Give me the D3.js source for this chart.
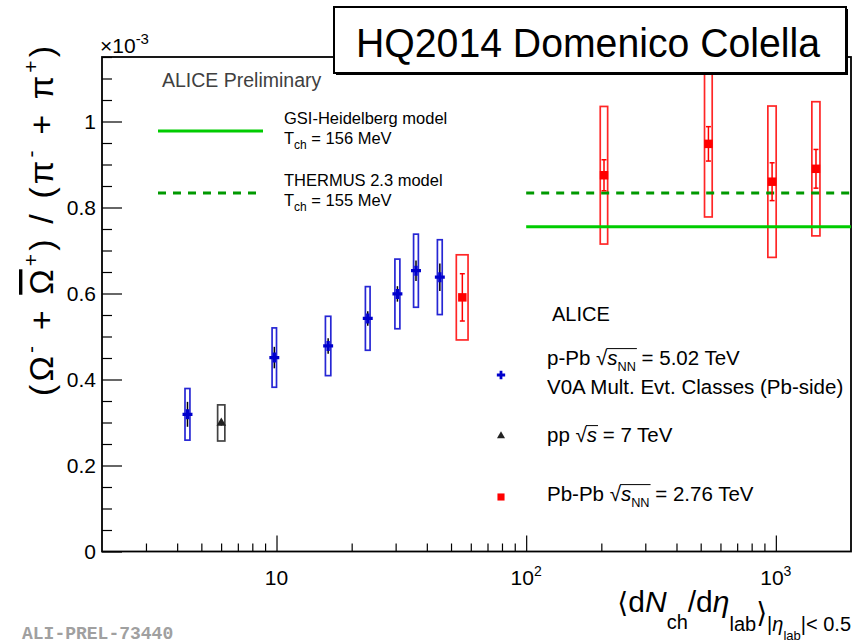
<!DOCTYPE html>
<html>
<head>
<meta charset="utf-8">
<script src="https://cdn.jsdelivr.net/npm/d3@7"></script>
<style>
  body { margin: 0; background: #fff; }
  text { font-family: "Liberation Sans", Arial, Helvetica, sans-serif; }
</style>
</head>
<body>
<div id="chart"></div>
<script>
// p-Pb 5.02 TeV, V0A multiplicity classes
const pPbMult = [4.4, 9.8, 16.1, 23.2, 30.5, 36.2, 45.1];
const pPbMultErr = [0.1, 0.2, 0.4, 0.5, 0.7, 0.8, 1.0];
const pPbRatio = [0.319, 0.451, 0.478, 0.542, 0.599, 0.653, 0.638];
const pPbStat = [0.029, 0.025, 0.018, 0.017, 0.018, 0.024, 0.032];
const pPbSyst = [0.060, 0.069, 0.069, 0.074, 0.081, 0.085, 0.087];

// pp 7 TeV
const ppMult = [6.01];
const ppMultErr = [0.2];
const ppRatio = [0.299];
const ppStat = [0.006];
const ppSyst = [0.042];

// Pb-Pb 2.76 TeV
const pbpbMult = [55.5, 205, 537, 966, 1448];
const pbpbMultErr = [3, 7, 19, 37, 54];
const pbpbRatio = [0.591, 0.875, 0.948, 0.860, 0.890];
const pbpbStat = [0.055, 0.036, 0.040, 0.044, 0.045];
const pbpbSyst = [0.099, 0.160, 0.170, 0.176, 0.156];

// thermal model predictions
const modelNames = ["GSI-Heidelberg model", "THERMUS 2.3 model"];
const modelTch = [156, 155];
const modelRatio = [0.755, 0.834];
const modelRange = [100, 2000];

// axis ticks
const yTicks = [0, 0.2, 0.4, 0.6, 0.8, 1];
const yTickLabels = ["0", "0.2", "0.4", "0.6", "0.8", "1"];
const xTicks = [10, 100, 1000];
const xTickLabels = [["10", ""], ["10", "2"], ["10", "3"]];

class RatioChart {

    constructor(_config) {
        this.config = {
            parentElement: _config.parentElement,
            containerWidth: _config.containerWidth || 867,
            containerHeight: _config.containerHeight || 643,
            margin: _config.margin || { top: 57, right: 16, bottom: 91.5, left: 102 }
        };
        this.initVis();
    }

    initVis() {
        let vis = this;
        const m = vis.config.margin;
        vis.width = vis.config.containerWidth - m.left - m.right;
        vis.height = vis.config.containerHeight - m.top - m.bottom;

        vis.svg = d3.select(vis.config.parentElement)
            .append('svg')
            .attr('width', vis.config.containerWidth)
            .attr('height', vis.config.containerHeight);

        vis.chart = vis.svg.append('g')
            .attr('transform', `translate(${m.left},${m.top})`);

        vis.x = d3.scaleLog().domain([2, 2000]).range([0, vis.width]);
        vis.y = d3.scaleLinear().domain([0, 1.15]).range([vis.height, 0]);
    }

    renderVis() {
        let vis = this;
        const x = vis.x, y = vis.y;

        // y axis, major + minor ticks pointing inwards
        const yMajor = vis.chart.append('g')
            .call(d3.axisLeft(y).tickValues(yTicks)
                .tickFormat((d, i) => yTickLabels[i])
                .tickSize(-20).tickSizeOuter(0).tickPadding(6));
        yMajor.selectAll('text').attr('font-size', 21).attr('fill', '#000')
            .style('font-family', '"Liberation Sans", Arial, sans-serif');
        const yMinorVals = d3.range(0.05, 1.151, 0.05)
            .filter(v => Math.abs(v * 5 - Math.round(v * 5)) > 1e-6);
        vis.chart.append('g')
            .call(d3.axisLeft(y).tickValues(yMinorVals).tickFormat('')
                .tickSize(-10).tickSizeOuter(0));

        // x axis (log)
        vis.chart.append('g')
            .attr('transform', `translate(0,${vis.height})`)
            .call(d3.axisBottom(x).tickValues(xTicks).tickFormat('')
                .tickSize(-16).tickSizeOuter(0));
        const xMinorVals = [];
        [1, 10, 100].forEach(dec => {
            for (let k = 2; k <= 9; k++) {
                if (dec * k > 2 && dec * k < 2000) xMinorVals.push(dec * k);
            }
        });
        vis.chart.append('g')
            .attr('transform', `translate(0,${vis.height})`)
            .call(d3.axisBottom(x).tickValues(xMinorVals).tickFormat('')
                .tickSize(-8).tickSizeOuter(0));
        vis.chart.selectAll('.domain').remove();
        vis.chart.selectAll('.tick line').attr('stroke', '#000').attr('stroke-width', 1.2);

        xTicks.forEach((t, i) => {
            const lab = vis.chart.append('text')
                .attr('x', x(t)).attr('y', vis.height + 33.5)
                .attr('text-anchor', 'middle').attr('font-size', 21);
            lab.append('tspan').text(xTickLabels[i][0]);
            if (xTickLabels[i][1]) {
                lab.append('tspan').attr('font-size', 14).attr('dy', -9).text(xTickLabels[i][1]);
            }
        });

        // frame
        vis.chart.append('rect')
            .attr('width', vis.width).attr('height', vis.height)
            .attr('fill', 'none').attr('stroke', '#000').attr('stroke-width', 1.8);

        // exponent label
        const expo = vis.svg.append('text').attr('x', 100).attr('y', 53).attr('font-size', 21);
        expo.append('tspan').text('\u00D710');
        expo.append('tspan').attr('font-size', 15).attr('dy', -9).text('-3');

        // data series
        const series = [
            { mult: pPbMult, multErr: pPbMultErr, ratio: pPbRatio, stat: pPbStat, syst: pPbSyst,
              color: '#0000cc', statColor: '#000', caps: false, symbol: d3.symbolCross, size: 55 },
            { mult: ppMult, multErr: ppMultErr, ratio: ppRatio, stat: ppStat, syst: ppSyst,
              color: '#222', statColor: '#000', caps: false, symbol: d3.symbolTriangle, size: 40 },
            { mult: pbpbMult, multErr: pbpbMultErr, ratio: pbpbRatio, stat: pbpbStat, syst: pbpbSyst,
              color: '#ff0000', statColor: '#ff0000', caps: true, symbol: d3.symbolSquare, size: 72 }
        ];

        series.forEach(s => {
            const pts = s.mult.map((m, i) => ({ m: m, e: s.multErr[i], r: s.ratio[i], st: s.stat[i], sy: s.syst[i] }));
            vis.chart.append('g').selectAll('rect')
                .data(pts).enter().append('rect')
                .attr('x', d => x(d.m - d.e))
                .attr('width', d => x(d.m + d.e) - x(d.m - d.e))
                .attr('y', d => y(d.r + d.sy))
                .attr('height', d => y(d.r - d.sy) - y(d.r + d.sy))
                .attr('fill', 'none')
                .attr('stroke', s.color).attr('stroke-width', 1.7).attr('stroke-opacity', 0.85);
        });

        // model lines
        const modelDash = [null, '8,7'];
        const modelColor = ['#00cc00', '#009900'];
        modelRatio.forEach((r, i) => {
            vis.chart.append('line')
                .attr('x1', x(modelRange[0])).attr('x2', x(modelRange[1]))
                .attr('y1', y(r)).attr('y2', y(r))
                .attr('stroke', modelColor[i]).attr('stroke-width', 3)
                .attr('stroke-dasharray', modelDash[i]);
        });

        series.forEach(s => {
            const pts = s.mult.map((m, i) => ({ m: m, r: s.ratio[i], st: s.stat[i] }));
            const g = vis.chart.append('g');
            g.selectAll('line.stat').data(pts).enter().append('line')
                .attr('x1', d => x(d.m)).attr('x2', d => x(d.m))
                .attr('y1', d => y(d.r + d.st)).attr('y2', d => y(d.r - d.st))
                .attr('stroke', s.statColor).attr('stroke-width', 1.5);
            if (s.caps) {
                ['hi', 'lo'].forEach(side => {
                    g.selectAll('line.cap' + side).data(pts).enter().append('line')
                        .attr('x1', d => x(d.m) - 2.5).attr('x2', d => x(d.m) + 2.5)
                        .attr('y1', d => y(side === 'hi' ? d.r + d.st : d.r - d.st))
                        .attr('y2', d => y(side === 'hi' ? d.r + d.st : d.r - d.st))
                        .attr('stroke', s.statColor).attr('stroke-width', 1.5);
                });
            }
            g.selectAll('path').data(pts).enter().append('path')
                .attr('d', d3.symbol().type(s.symbol).size(s.size))
                .attr('transform', d => `translate(${x(d.m)},${y(d.r)})`)
                .attr('fill', s.color);
        });

        // top-left legend
        vis.svg.append('text').attr('x', 162).attr('y', 87).attr('font-size', 19.5)
            .attr('fill', '#404040').text('ALICE Preliminary');
        const legY = [131, 193];
        modelNames.forEach((name, i) => {
            vis.svg.append('line')
                .attr('x1', 158).attr('x2', 263).attr('y1', legY[i]).attr('y2', legY[i])
                .attr('stroke', modelColor[i]).attr('stroke-width', 3)
                .attr('stroke-dasharray', modelDash[i]);
            vis.svg.append('text').attr('x', 284).attr('y', legY[i] - 7)
                .attr('font-size', 16.5).text(name);
            const t = vis.svg.append('text').attr('x', 284).attr('y', legY[i] + 13).attr('font-size', 16.5);
            t.append('tspan').text('T');
            t.append('tspan').attr('font-size', 12).attr('dy', 5).text('ch');
            t.append('tspan').attr('dy', -5).text(` = ${modelTch[i]} MeV`);
        });

        // bottom-right legend
        vis.svg.append('text').attr('x', 552).attr('y', 321).attr('font-size', 20).text('ALICE');
        vis.sqrtText(547, 365, 20.5, 'p-Pb ', 'NN', ' = 5.02 TeV');
        vis.svg.append('text').attr('x', 547).attr('y', 394).attr('font-size', 20.5)
            .text('V0A Mult. Evt. Classes (Pb-side)');
        vis.sqrtText(547, 442, 20.5, 'pp ', '', ' = 7 TeV');
        vis.sqrtText(547, 501, 20.5, 'Pb-Pb ', 'NN', ' = 2.76 TeV');
        const legMarkY = [375, 436, 497];
        series.forEach((s, i) => {
            vis.svg.append('path')
                .attr('d', d3.symbol().type(s.symbol).size(s.size * 0.7))
                .attr('transform', `translate(501,${legMarkY[i]})`)
                .attr('fill', s.color);
        });

        // y axis title
        const yt = vis.svg.append('text')
            .attr('transform', 'translate(53,46) rotate(-90)')
            .attr('text-anchor', 'end').attr('font-size', 34)
            .attr('textLength', 350).attr('lengthAdjust', 'spacing');
        const sup = (txt) => {
            yt.append('tspan').attr('font-size', 21).attr('dy', -15).text(txt);
        };
        yt.append('tspan').text('(\u03A9');
        sup('-');
        yt.append('tspan').attr('dy', 15).text(' + ');
        yt.append('tspan').style('text-decoration', 'overline').text('\u03A9');
        sup('+');
        yt.append('tspan').attr('dy', 15).text(') / (\u03C0');
        sup('-');
        yt.append('tspan').attr('dy', 15).text(' + \u03C0');
        sup('+');
        yt.append('tspan').attr('dy', 15).text(')');

        // x axis title
        const xt = vis.svg.append('text')
            .attr('x', 851).attr('y', 612)
            .attr('text-anchor', 'end').attr('font-size', 30);
        xt.append('tspan').style('font-family', '"DejaVu Sans", sans-serif').attr('font-size', 28).text('\u27E8');
        xt.append('tspan').text('d');
        xt.append('tspan').attr('font-style', 'italic').text('N');
        xt.append('tspan').attr('font-size', 20).attr('dy', 17).text('ch');
        xt.append('tspan').attr('dy', -17).text('/d');
        xt.append('tspan').attr('font-style', 'italic').text('\u03B7');
        xt.append('tspan').attr('font-size', 20).attr('dy', 19).text('lab');
        xt.append('tspan').style('font-family', '"DejaVu Sans", sans-serif').attr('font-size', 28).attr('dy', -9).text('\u27E9');
        xt.append('tspan').attr('font-size', 20).attr('dy', 9).text('|');
        xt.append('tspan').attr('font-size', 20).attr('font-style', 'italic').text('\u03B7');
        xt.append('tspan').attr('font-size', 13).attr('dy', 9).text('lab');
        xt.append('tspan').attr('font-size', 20).attr('dy', -9).text('|< 0.5');

        // preliminary id
        vis.svg.append('text').attr('x', 22).attr('y', 639)
            .attr('font-size', 18).attr('font-weight', 'bold').attr('fill', '#a0a0a0')
            .style('font-family', '"Liberation Mono", "Courier New", monospace')
            .text('ALI-PREL-73440');

        // conference tag box
        vis.svg.append('rect').attr('x', 336).attr('y', 9).attr('width', 512).attr('height', 66)
            .attr('fill', '#000');
        vis.svg.append('rect').attr('x', 334).attr('y', 7).attr('width', 512).attr('height', 66)
            .attr('fill', '#fff').attr('stroke', '#000').attr('stroke-width', 2);
        vis.svg.append('text').attr('x', 588).attr('y', 56.5)
            .attr('text-anchor', 'middle').attr('font-size', 40)
            .attr('textLength', 464).attr('lengthAdjust', 'spacingAndGlyphs')
            .text('HQ2014 Domenico Colella');
    }

    sqrtText(px, py, fs, pre, sub, post) {
        let vis = this;
        const t = vis.svg.append('text').attr('x', px).attr('y', py).attr('font-size', fs);
        t.append('tspan').text(pre);
        t.append('tspan').text('\u221A');
        t.append('tspan').attr('font-style', 'italic').text('s');
        if (sub) t.append('tspan').attr('font-size', fs * 0.62).attr('dy', fs * 0.3).text(sub);
        t.append('tspan').attr('dy', sub ? -fs * 0.3 : 0).text(post);
        const node = t.node();
        const iRad = pre.length;
        const iEnd = iRad + 1 + sub.length;
        const ext = node.getExtentOfChar(iRad);
        const endX = node.getEndPositionOfChar(iEnd).x;
        vis.svg.append('line')
            .attr('x1', ext.x + ext.width - 0.8).attr('x2', endX + 1)
            .attr('y1', py - fs * 0.8).attr('y2', py - fs * 0.8)
            .attr('stroke', '#000').attr('stroke-width', 1);
    }
}

const chart = new RatioChart({ parentElement: '#chart' });
chart.renderVis();
</script>
</body>
</html>
